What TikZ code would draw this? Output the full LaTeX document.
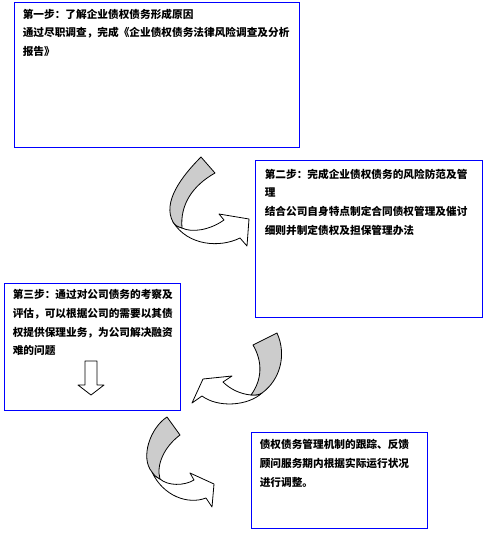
\documentclass[tikz,border=0pt]{standalone}
\usepackage{fontspec}
\newfontfamily\cjk{Noto Sans CJK SC}
\usetikzlibrary{fit}
\definecolor{boxblue}{RGB}{0,0,255}
\definecolor{curlgray}{RGB}{204,204,204}
\tikzset{
  stepbox/.style={draw=boxblue, line width=0.75pt, inner sep=0pt},
  steptext/.style={anchor=north west, inner sep=0pt, align=left,
                   font=\cjk\bfseries\fontsize{8pt}{14pt}\selectfont},
  curl/.style={draw=black, line width=0.6pt, fill=white, line join=round},
  curlback/.style={curl, fill=curlgray},
}

\begin{document}
\begin{tikzpicture}[x=0.75pt,y=-0.75pt]
  \path[use as bounding box] (0,0) rectangle (489,543);

  \node[stepbox, fit={(14,2) (299,147)}] (step1) {};
  \node[steptext] (text1) at ([shift={(9,7)}]step1.north west)
    {第一步：了解企业债权债务形成原因\\
     通过尽职调查，完成《企业债权债务法律风险调查及分析\\
     报告》};

  \node[stepbox, fit={(255,160) (482,317)}] (step2) {};
  \node[steptext] (text2) at ([shift={(10,9)}]step2.north west)
    {第二步：完成企业债权债务的风险防范及管\\
     理\\
     结合公司自身特点制定合同债权管理及催讨\\
     细则并制定债权及担保管理办法};

  \node[stepbox, fit={(4,283) (180,410)}] (step3) {};
  \node[steptext] (text3) at ([shift={(9,7)}]step3.north west)
    {第三步：通过对公司债务的考察及\\
     评估，可以根据公司的需要以其债\\
     权提供保理业务，为公司解决融资\\
     难的问题};

  \node[stepbox, fit={(251,432) (427,528)}] (step4) {};
  \node[steptext] (text4) at ([shift={(9,8)}]step4.north west)
    {债权债务管理机制的跟踪、反馈\\
     顾问服务期内根据实际运行状况\\
     进行调整。};

  % down arrow inside step 3
  \draw[curl] (85,361) -- (97,361) -- (97,385) -- (104,385) -- (91,395)
    -- (78,385) -- (85,385) -- cycle;

  % curl from step 1 to step 2
  \draw[curl] (182,228) .. controls (192,233) and (210,230) .. (224,220)
    -- (219,214) -- (249,219) -- (247,246) -- (240,238)
    .. controls (220,248) and (188,246) .. (173,222)
    .. controls (176,226) .. (182,228) -- cycle;
  \draw[curlback] (201,157) .. controls (182,176) and (162,202) .. (173,222)
    .. controls (176,226) .. (182,228)
    .. controls (180,205) and (192,186) .. (215,173) -- cycle;

  % curl from step 2 to step 3
  \draw[curl] (251,395) .. controls (240,394) and (230,389) .. (223,382)
    -- (232,376) -- (203,379) -- (192,403) -- (202,396)
    .. controls (218,408) and (248,406) .. (262,393)
    .. controls (258,395) .. (251,395) -- cycle;
  \draw[curlback] (277,333) .. controls (287,355) and (280,380) .. (262,393)
    .. controls (258,395) .. (251,395)
    .. controls (262,380) and (263,362) .. (253,345) -- cycle;

  % curl from step 3 to step 4
  \draw[curl] (160,479) .. controls (168,486) and (184,486) .. (194,480)
    -- (190,473) -- (214,484) -- (212,507) -- (206,498)
    .. controls (188,505) and (163,496) .. (152,472)
    .. controls (155,476) .. (160,479) -- cycle;
  \draw[curlback] (167,417) .. controls (150,428) and (140,458) .. (152,472)
    .. controls (155,476) .. (160,479)
    .. controls (156,465) and (164,447) .. (180,435) -- cycle;
\end{tikzpicture}
\end{document}
